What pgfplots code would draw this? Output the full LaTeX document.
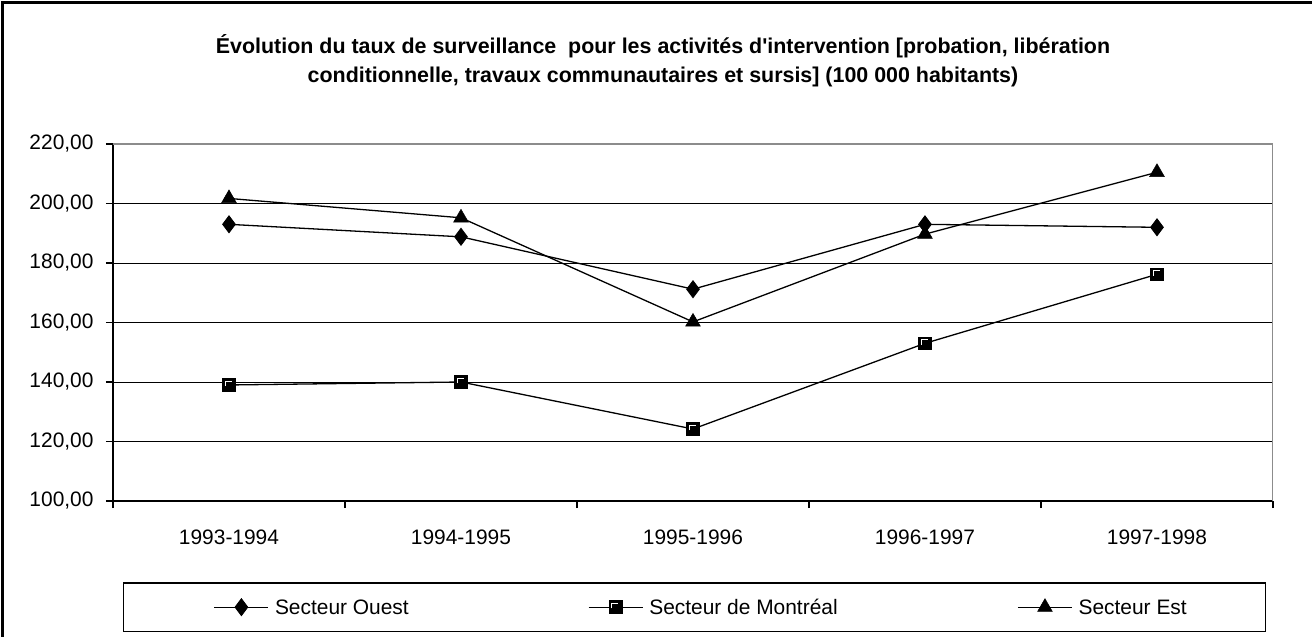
\documentclass[border=0pt]{standalone}
\usepackage{pgfplots}
\pgfplotsset{compat=1.18}
\usepackage{fontspec}
\setmainfont{Liberation Sans}

% square marker with white inset, as in the spreadsheet original
\pgfdeclareplotmark{xlsquare}{%
  \pgfpathrectangle{\pgfqpoint{-\pgfplotmarksize}{-\pgfplotmarksize}}{\pgfqpoint{2\pgfplotmarksize}{2\pgfplotmarksize}}%
  \pgfsetfillcolor{black}\pgfsetstrokecolor{black}\pgfusepath{fill,stroke}%
  \pgfsetstrokecolor{white}\pgfsetlinewidth{0.9bp}%
  \pgfpathmoveto{\pgfqpoint{-0.6\pgfplotmarksize}{-0.2\pgfplotmarksize}}%
  \pgfpathlineto{\pgfqpoint{-0.6\pgfplotmarksize}{0.6\pgfplotmarksize}}%
  \pgfpathlineto{\pgfqpoint{0.4\pgfplotmarksize}{0.6\pgfplotmarksize}}%
  \pgfusepath{stroke}}

\newcommand{\lgent}[2]{\makebox[#1][l]{\vphantom{Mé}#2}}

\begin{document}
\begin{tikzpicture}
\path[use as bounding box] (-113bp,-136bp) rectangle (1199bp,501bp);
\draw[line width=3bp] (-110bp,-140bp) -- (-110bp,498bp) -- (1205bp,498bp);

\node[align=center, font=\fontsize{21.5}{29}\selectfont\bfseries] at (550bp,440bp)
  {Évolution du taux de surveillance\ \ pour les activités d\textquotesingle intervention [probation, libération\\
   conditionnelle, travaux communautaires et sursis] (100 000 habitants)};

\begin{axis}[
  at={(0,0)}, anchor=south west,
  scale only axis, width=1160bp, height=357bp,
  xmin=-0.5, xmax=4.5, ymin=100, ymax=220,
  axis x line*=bottom, axis y line*=left,
  axis line style={black, line width=1.5bp},
  xtick={-0.5,0.5,...,4.5},
  x tick label as interval,
  xticklabels={1993-1994,1994-1995,1995-1996,1996-1997,1997-1998},
  ytick={100,120,...,220},
  tick align=outside, major tick length=7bp,
  tick style={black, line width=1.2bp},
  ymajorgrids, grid style={black, line width=0.8bp},
  tick label style={font=\fontsize{21}{25}\selectfont},
  xticklabel style={yshift=-18bp},
  yticklabel style={xshift=-9bp},
  /pgf/number format/.cd, fixed, fixed zerofill, precision=2, use comma, 1000 sep={}, assume math mode=true,
  /pgfplots/.cd,
  legend columns=3,
  legend style={at={(0,0)}, anchor=north west, xshift=10bp, yshift=-81bp,
    draw=black, line width=1.5bp, inner xsep=90bp, inner ysep=14bp,
    font=\fontsize{21}{25}\selectfont,
    /tikz/every odd column/.append style={column sep=4bp},
    /tikz/every even column/.append style={column sep=0bp}},
  legend image code/.code={\draw[line width=1.3bp, mark repeat=2, mark phase=2]
    plot coordinates {(0bp,0bp) (27bp,0bp) (54bp,0bp)};},
]
\addplot[black, line width=1.3bp, mark=diamond*, mark size=8.5bp, mark options={solid, line width=0.8bp}]
  coordinates {(0,193.0) (1,188.8) (2,171.2) (3,193.0) (4,192.0)};
\addlegendentry{\lgent{311bp}{Secteur Ouest}}
\addplot[black, line width=1.3bp, mark=xlsquare, mark size=6.3bp, mark options={solid, line width=0.9bp}]
  coordinates {(0,139.0) (1,140.0) (2,124.2) (3,153.0) (4,176.2)};
\addlegendentry{\lgent{366bp}{Secteur de Montréal}}
\addplot[black, line width=1.3bp, mark=triangle*, mark size=8.5bp, mark options={solid, line width=0.5bp}]
  coordinates {(0,201.7) (1,195.2) (2,160.2) (3,189.7) (4,210.5)};
\addlegendentry{\lgent{95bp}{Secteur Est}}
\draw[gray!90, line width=1.5bp] (rel axis cs:0,1) -- (rel axis cs:1,1) -- (rel axis cs:1,0);
\end{axis}
\end{tikzpicture}
\end{document}
